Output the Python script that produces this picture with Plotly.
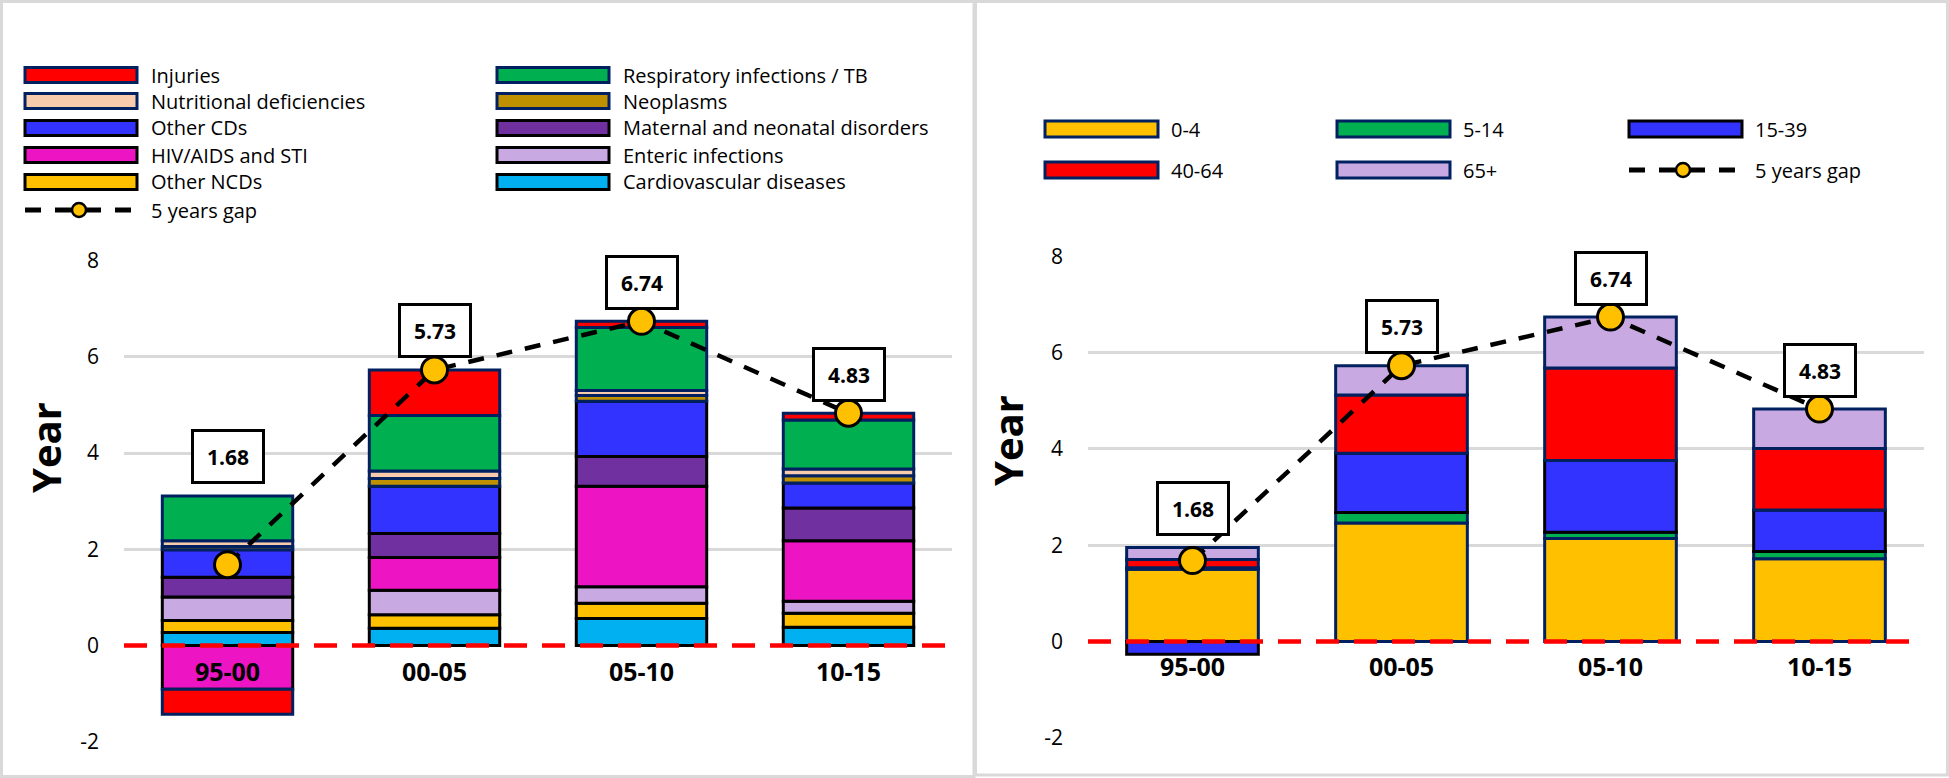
import plotly.graph_objects as go

# ---------------- data ----------------
periods = ["95-00", "00-05", "05-10", "10-15"]
gap_5y = [1.68, 5.73, 6.74, 4.83]
y_ticks = [-2, 0, 2, 4, 6, 8]

# causes (stack order, bottom -> top)
cause_names = ["Cardiovascular diseases", "Other NCDs", "Enteric infections", "HIV/AIDS and STI",
               "Maternal and neonatal disorders", "Other CDs", "Neoplasms",
               "Nutritional deficiencies", "Respiratory infections / TB", "Injuries"]
cardio      = [0.27, 0.36, 0.56, 0.38]
other_ncd   = [0.25, 0.28, 0.32, 0.29]
enteric     = [0.49, 0.51, 0.34, 0.25]
hiv         = [-0.91, 0.68, 2.09, 1.26]
maternal    = [0.41, 0.50, 0.62, 0.68]
other_cd    = [0.57, 0.98, 1.15, 0.52]
neoplasms   = [0.07, 0.16, 0.12, 0.15]
nutritional = [0.12, 0.16, 0.10, 0.14]
respiratory = [0.93, 1.15, 1.31, 1.02]
injuries    = [-0.52, 0.95, 0.13, 0.14]
cause_values = [cardio, other_ncd, enteric, hiv, maternal, other_cd, neoplasms,
                nutritional, respiratory, injuries]

# age groups (stack order, bottom -> top)
age_names = ["0-4", "5-14", "15-39", "40-64", "65+"]
age_0_4   = [1.50, 2.46, 2.14, 1.72]
age_5_14  = [0.03, 0.22, 0.13, 0.15]
age_15_39 = [-0.27, 1.23, 1.49, 0.86]
age_40_64 = [0.17, 1.21, 1.92, 1.28]
age_65    = [0.25, 0.61, 1.06, 0.82]
age_values = [age_0_4, age_5_14, age_15_39, age_40_64, age_65]

gap_name = "5 years gap"

# ---------------- styles ----------------
NAVY = "#002060"
BLACK = "#000000"
cause_colors = {
    "Injuries": ("#FF0000", NAVY),
    "Respiratory infections / TB": ("#00B050", NAVY),
    "Nutritional deficiencies": ("#F8CBAD", NAVY),
    "Neoplasms": ("#BF9000", NAVY),
    "Other CDs": ("#3333FF", BLACK),
    "Maternal and neonatal disorders": ("#7030A0", BLACK),
    "HIV/AIDS and STI": ("#EC14C3", BLACK),
    "Enteric infections": ("#C9A9E1", BLACK),
    "Other NCDs": ("#FFC000", BLACK),
    "Cardiovascular diseases": ("#00B0F0", BLACK),
}
age_colors = {
    "0-4": ("#FFC000", NAVY),
    "5-14": ("#00B050", NAVY),
    "15-39": ("#3333FF", BLACK),
    "40-64": ("#FF0000", NAVY),
    "65+": ("#C9A9E1", NAVY),
}
GOLD = "#FFC000"
GRID = "#D9D9D9"
FONT = "Open Sans, Noto Sans, DejaVu Sans, sans-serif"

W, H = 1949, 778


def px(x):
    return x / W


def py(y):
    return 1 - y / H


fig = go.Figure()

panels = [
    ("x", "y", cause_names, cause_values, cause_colors),
    ("x2", "y2", age_names, age_values, age_colors),
]

for xa, ya, names, values, colors in panels:
    for name, vals in zip(names, values):
        fill, edge = colors[name]
        fig.add_trace(go.Bar(
            x=periods, y=vals, name=name, xaxis=xa, yaxis=ya,
            marker=dict(color=fill, line=dict(color=edge, width=3)),
            showlegend=False, hoverinfo="x+y+name"))
    fig.add_trace(go.Scatter(
        x=periods, y=gap_5y, name=gap_name, xaxis=xa, yaxis=ya,
        mode="lines+markers",
        line=dict(color="black", width=4.5, dash="16px,13px"),
        marker=dict(size=26, color=GOLD, line=dict(color="black", width=3)),
        showlegend=False))

    # value labels (boxes) above the higher of the bar top / gap point
    pos_tops = [sum(v[i] for v in values if v[i] > 0) for i in range(len(periods))]
    for i, p in enumerate(periods):
        fig.add_annotation(
            x=p, y=max(pos_tops[i], gap_5y[i]), xref=xa, yref=ya,
            text=f"<b>{gap_5y[i]:.2f}</b>", showarrow=False, yshift=39,
            yanchor="middle", xanchor="center",
            font=dict(family=FONT, size=21, color="black"),
            bgcolor="white", bordercolor="black", borderwidth=3, borderpad=2,
            width=64, height=45)

    # red dashed zero line
    fig.add_shape(type="line", xref=f"{xa} domain", yref=ya, x0=0, x1=1, y0=0, y1=0,
                  line=dict(color="#FF0000", width=4.5, dash="23px,15px"), layer="above")

# axes geometry
yl_dom = [py(741.7), py(260.7)]
yr_dom = [py(737.6), py(256.5)]
yr_range = [y_ticks[0], y_ticks[-1]]


def zero_pos(dom):
    return dom[0] + (0 - yr_range[0]) / (yr_range[1] - yr_range[0]) * (dom[1] - dom[0])


xcommon = dict(type="category", showgrid=False, zeroline=False, showline=False, ticks="",
               tickfont=dict(family=FONT, size=25, color="black", weight="bold"),
               ticklabelstandoff=9, anchor="free", automargin=False)
ycommon = dict(range=yr_range, tickmode="array", tickvals=y_ticks, ticktext=[str(t) for t in y_ticks],
               showgrid=True, gridcolor=GRID, gridwidth=3,
               zeroline=True, zerolinecolor="white", zerolinewidth=5, showline=False, ticks="",
               tickfont=dict(family=FONT, size=21, color="black"), ticklabelstandoff=24,
               automargin=False)

fig.update_layout(
    xaxis=dict(domain=[px(124), px(952)], position=zero_pos(yl_dom), **xcommon),
    yaxis=dict(domain=yl_dom, anchor="x", **ycommon),
    xaxis2=dict(domain=[px(1088), px(1924)], position=zero_pos(yr_dom), **xcommon),
    yaxis2=dict(domain=yr_dom, anchor="x2", **ycommon),
)

# axis titles
for xc, yc in [(45, 448), (1007, 440)]:
    fig.add_annotation(x=px(xc), y=py(yc), xref="paper", yref="paper", text="<b>Year</b>",
                       textangle=-90, showarrow=False, xanchor="center", yanchor="middle",
                       font=dict(family=FONT, size=40, color="black"))

# panel frames
fig.add_shape(type="rect", xref="paper", yref="paper", x0=px(1.5), x1=px(974), y0=py(776.5), y1=py(1.5),
              line=dict(color=GRID, width=3), layer="below")
fig.add_shape(type="rect", xref="paper", yref="paper", x0=px(975.5), x1=px(1947.5), y0=py(775), y1=py(1.5),
              line=dict(color=GRID, width=3), layer="below")


# ---------------- custom legends ----------------
def legend_bar(x0, yc, fill, edge, w=112, h=15):
    fig.add_shape(type="rect", xref="paper", yref="paper", x0=px(x0), x1=px(x0 + w),
                  y0=py(yc + h / 2), y1=py(yc - h / 2),
                  fillcolor=fill, line=dict(color=edge, width=3), layer="above")


def legend_gap(x0, yc):
    fig.add_shape(type="line", xref="paper", yref="paper", x0=px(x0), x1=px(x0 + 107),
                  y0=py(yc), y1=py(yc), line=dict(color="black", width=5, dash="16px,14px"),
                  layer="above")
    fig.add_shape(type="circle", xref="paper", yref="paper", x0=px(x0 + 47), x1=px(x0 + 61),
                  y0=py(yc + 7), y1=py(yc - 7), fillcolor=GOLD,
                  line=dict(color="black", width=2.5), layer="above")


def legend_text(x0, yc, text):
    fig.add_annotation(x=px(x0), y=py(yc), xref="paper", yref="paper", text=text,
                       showarrow=False, xanchor="left", yanchor="middle",
                       font=dict(family=FONT, size=20, color="black"))


left_order = ["Injuries", "Respiratory infections / TB", "Nutritional deficiencies", "Neoplasms",
              "Other CDs", "Maternal and neonatal disorders", "HIV/AIDS and STI",
              "Enteric infections", "Other NCDs", "Cardiovascular diseases", gap_name]
left_cols = [25, 497]
left_rows = [75, 101, 128, 155, 182, 210]
for k, name in enumerate(left_order):
    cx = left_cols[k % 2]
    cy = left_rows[k // 2]
    if name == gap_name:
        legend_gap(cx, cy)
    else:
        legend_bar(cx, cy, *cause_colors[name])
    legend_text(cx + 124, cy, name)

right_order = age_names + [gap_name]
right_cols = [1045, 1337, 1629]
right_rows = [129, 170]
for k, name in enumerate(right_order):
    cx = right_cols[k % 3]
    cy = right_rows[k // 3]
    if name == gap_name:
        legend_gap(cx, cy)
    else:
        legend_bar(cx, cy, *age_colors[name], w=113, h=16)
    legend_text(cx + 124, cy, name)

fig.update_layout(
    barmode="relative", bargap=0.37,
    width=W, height=H, margin=dict(l=0, r=0, t=0, b=0, autoexpand=False),
    plot_bgcolor="white", paper_bgcolor="white", showlegend=False,
    font=dict(family=FONT, color="black"),
)

fig.write_html("out.html", config={"displayModeBar": False},
               post_script="document.body.style.margin='0';")
